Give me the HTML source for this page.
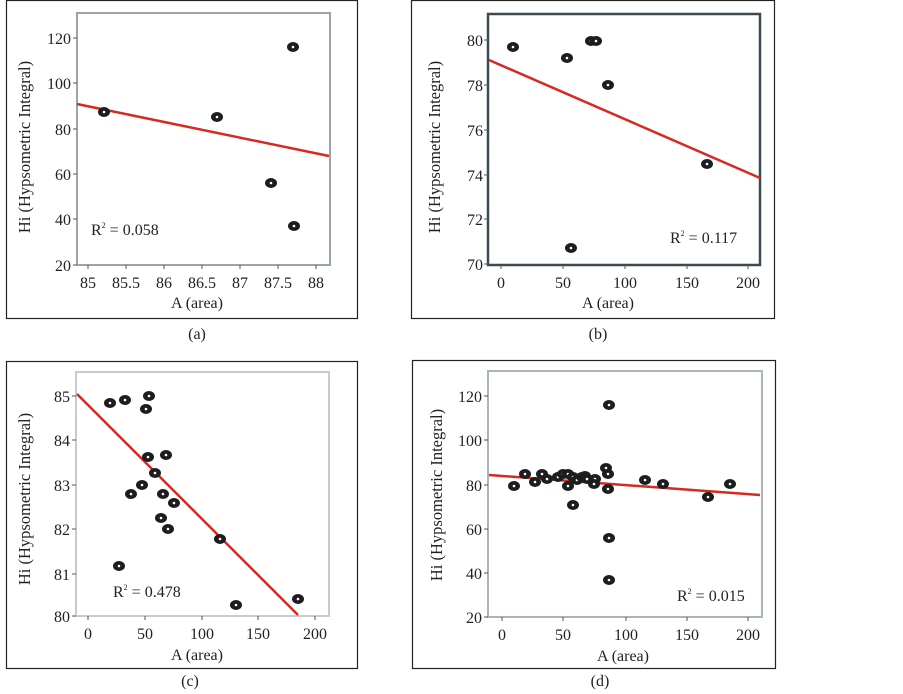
<!DOCTYPE html>
<html><head><meta charset="utf-8"><style>
html,body{margin:0;padding:0;background:#fff}
svg{display:block;font-family:"Liberation Serif","Times New Roman",Times,serif}
svg text{font-family:"Liberation Serif","Times New Roman",Times,serif;fill:#222}
.t{font-size:16px}
.tt{font-size:16.5px}
</style></head><body>
<svg width="903" height="694" viewBox="0 0 903 694" xmlns="http://www.w3.org/2000/svg" font-family="Liberation Serif, Times New Roman, serif">
<defs>
<g id="m"><ellipse cx="0" cy="0" rx="6" ry="5" fill="#1b1d1f"/><circle cx="0" cy="0" r="1.3" fill="#fff"/></g>
</defs>

<!-- Panel a -->
<rect x="6.5" y="0.5" width="351" height="318" fill="none" stroke="#222" stroke-width="1.2"/>
<rect x="77" y="13" width="253" height="252" fill="none" stroke="#9aa4ac" stroke-width="2"/>
<g stroke="#555" stroke-width="1">
<line x1="73" y1="38" x2="77" y2="38"/><line x1="73" y1="83" x2="77" y2="83"/><line x1="73" y1="129" x2="77" y2="129"/><line x1="73" y1="174" x2="77" y2="174"/><line x1="73" y1="219" x2="77" y2="219"/><line x1="73" y1="265" x2="77" y2="265"/>
<line x1="88" y1="265" x2="88" y2="269"/><line x1="126" y1="265" x2="126" y2="269"/><line x1="164" y1="265" x2="164" y2="269"/><line x1="202" y1="265" x2="202" y2="269"/><line x1="240" y1="265" x2="240" y2="269"/><line x1="278" y1="265" x2="278" y2="269"/><line x1="316" y1="265" x2="316" y2="269"/>
</g>
<g class="t" text-anchor="end">
<text x="71" y="44">120</text><text x="71" y="89">100</text><text x="71" y="135">80</text><text x="71" y="180">60</text><text x="71" y="225">40</text><text x="71" y="271">20</text>
</g>
<g class="t" text-anchor="middle">
<text x="88" y="288">85</text><text x="126" y="288">85.5</text><text x="164" y="288">86</text><text x="202" y="288">86.5</text><text x="240" y="288">87</text><text x="278" y="288">87.5</text><text x="316" y="288">88</text>
<text x="197" y="308">A (area)</text>
<text x="197" y="339">(a)</text>
</g>
<text class="tt" text-anchor="middle" transform="translate(30,147) rotate(-90)">Hi (Hypsometric Integral)</text>
<line x1="77" y1="104" x2="329" y2="156" stroke="#d42a22" stroke-width="2.5"/>
<use href="#m" x="104" y="112"/><use href="#m" x="217" y="117"/><use href="#m" x="271" y="183"/><use href="#m" x="293" y="47"/><use href="#m" x="294" y="226"/>
<text class="t" x="91" y="235">R<tspan font-size="8" dy="-7">2</tspan><tspan dy="7"> = 0.058</tspan></text>

<!-- Panel b -->
<rect x="411.5" y="0.5" width="363" height="318" fill="none" stroke="#222" stroke-width="1.2"/>
<rect x="488" y="14" width="272" height="251" fill="none" stroke="#3d4a52" stroke-width="2.5"/>
<g stroke="#555" stroke-width="1">
<line x1="484" y1="40" x2="488" y2="40"/><line x1="484" y1="85" x2="488" y2="85"/><line x1="484" y1="130" x2="488" y2="130"/><line x1="484" y1="175" x2="488" y2="175"/><line x1="484" y1="219" x2="488" y2="219"/><line x1="484" y1="264" x2="488" y2="264"/>
<line x1="501" y1="265" x2="501" y2="269"/><line x1="563" y1="265" x2="563" y2="269"/><line x1="625" y1="265" x2="625" y2="269"/><line x1="687" y1="265" x2="687" y2="269"/><line x1="748" y1="265" x2="748" y2="269"/>
</g>
<g class="t" text-anchor="end">
<text x="483" y="46">80</text><text x="483" y="91">78</text><text x="483" y="136">76</text><text x="483" y="181">74</text><text x="483" y="225">72</text><text x="483" y="270">70</text>
</g>
<g class="t" text-anchor="middle">
<text x="501" y="288">0</text><text x="563" y="288">50</text><text x="625" y="288">100</text><text x="687" y="288">150</text><text x="748" y="288">200</text>
<text x="608" y="308">A (area)</text>
<text x="598" y="339">(b)</text>
</g>
<text class="tt" text-anchor="middle" transform="translate(440,147) rotate(-90)">Hi (Hypsometric Integral)</text>
<line x1="489" y1="60" x2="760" y2="178" stroke="#d42a22" stroke-width="2.5"/>
<use href="#m" x="513" y="47"/><use href="#m" x="567" y="58"/><use href="#m" x="591" y="41"/><use href="#m" x="596" y="41"/><use href="#m" x="608" y="85"/><use href="#m" x="707" y="164"/><use href="#m" x="571" y="248"/>
<text class="t" x="670" y="243">R<tspan font-size="8" dy="-7">2</tspan><tspan dy="7"> = 0.117</tspan></text>

<!-- Panel c -->
<rect x="6.5" y="361.5" width="351" height="307" fill="none" stroke="#222" stroke-width="1.2"/>
<rect x="76" y="372" width="253" height="244" fill="none" stroke="#c4ccd2" stroke-width="2"/>
<g stroke="#555" stroke-width="1">
<line x1="72" y1="396" x2="76" y2="396"/><line x1="72" y1="440" x2="76" y2="440"/><line x1="72" y1="485" x2="76" y2="485"/><line x1="72" y1="529" x2="76" y2="529"/><line x1="72" y1="574" x2="76" y2="574"/><line x1="72" y1="616" x2="76" y2="616"/>
<line x1="88" y1="616" x2="88" y2="620"/><line x1="145" y1="616" x2="145" y2="620"/><line x1="202" y1="616" x2="202" y2="620"/><line x1="258" y1="616" x2="258" y2="620"/><line x1="315" y1="616" x2="315" y2="620"/>
</g>
<g class="t" text-anchor="end">
<text x="70" y="402">85</text><text x="70" y="446">84</text><text x="70" y="491">83</text><text x="70" y="535">82</text><text x="70" y="580">81</text><text x="70" y="622">80</text>
</g>
<g class="t" text-anchor="middle">
<text x="88" y="639">0</text><text x="145" y="639">50</text><text x="202" y="639">100</text><text x="258" y="639">150</text><text x="315" y="639">200</text>
<text x="197" y="660">A (area)</text>
<text x="190" y="686">(c)</text>
</g>
<text class="tt" text-anchor="middle" transform="translate(30,499) rotate(-90)">Hi (Hypsometric Integral)</text>
<line x1="77" y1="394" x2="298" y2="615" stroke="#d42a22" stroke-width="2.5"/>
<use href="#m" x="110" y="403"/><use href="#m" x="125" y="400"/><use href="#m" x="149" y="396"/><use href="#m" x="146" y="409"/><use href="#m" x="148" y="457"/><use href="#m" x="166" y="455"/><use href="#m" x="155" y="473"/><use href="#m" x="142" y="485"/><use href="#m" x="131" y="494"/><use href="#m" x="163" y="494"/><use href="#m" x="174" y="503"/><use href="#m" x="161" y="518"/><use href="#m" x="168" y="529"/><use href="#m" x="220" y="539"/><use href="#m" x="119" y="566"/><use href="#m" x="236" y="605"/><use href="#m" x="298" y="599"/>
<text class="t" x="113" y="597">R<tspan font-size="8" dy="-7">2</tspan><tspan dy="7"> = 0.478</tspan></text>

<!-- Panel d -->
<rect x="412.5" y="360.5" width="363" height="308" fill="none" stroke="#222" stroke-width="1.2"/>
<rect x="488" y="371" width="274" height="246" fill="none" stroke="#a9b4bb" stroke-width="2"/>
<g stroke="#555" stroke-width="1">
<line x1="484" y1="396" x2="488" y2="396"/><line x1="484" y1="440" x2="488" y2="440"/><line x1="484" y1="485" x2="488" y2="485"/><line x1="484" y1="529" x2="488" y2="529"/><line x1="484" y1="573" x2="488" y2="573"/><line x1="484" y1="617" x2="488" y2="617"/>
<line x1="502" y1="617" x2="502" y2="621"/><line x1="563" y1="617" x2="563" y2="621"/><line x1="626" y1="617" x2="626" y2="621"/><line x1="687" y1="617" x2="687" y2="621"/><line x1="748" y1="617" x2="748" y2="621"/>
</g>
<g class="t" text-anchor="end">
<text x="482" y="402">120</text><text x="482" y="446">100</text><text x="482" y="491">80</text><text x="482" y="535">60</text><text x="482" y="579">40</text><text x="482" y="623">20</text>
</g>
<g class="t" text-anchor="middle">
<text x="502" y="640">0</text><text x="563" y="640">50</text><text x="626" y="640">100</text><text x="687" y="640">150</text><text x="748" y="640">200</text>
<text x="623" y="661">A (area)</text>
<text x="600" y="686">(d)</text>
</g>
<text class="tt" text-anchor="middle" transform="translate(442,495) rotate(-90)">Hi (Hypsometric Integral)</text>
<line x1="489" y1="475" x2="760" y2="495" stroke="#d42a22" stroke-width="2.5"/>
<use href="#m" x="514" y="486"/><use href="#m" x="525" y="474"/><use href="#m" x="535" y="482"/><use href="#m" x="542" y="474"/><use href="#m" x="547" y="479"/><use href="#m" x="558" y="477"/><use href="#m" x="563" y="474"/><use href="#m" x="568" y="474"/><use href="#m" x="568" y="486"/><use href="#m" x="573" y="477"/><use href="#m" x="573" y="505"/><use href="#m" x="577" y="480"/><use href="#m" x="582" y="477"/><use href="#m" x="585" y="476"/><use href="#m" x="587" y="479"/><use href="#m" x="595" y="479"/><use href="#m" x="594" y="484"/><use href="#m" x="606" y="468"/><use href="#m" x="608" y="474"/><use href="#m" x="608" y="489"/><use href="#m" x="609" y="405"/><use href="#m" x="609" y="538"/><use href="#m" x="609" y="580"/><use href="#m" x="645" y="480"/><use href="#m" x="663" y="484"/><use href="#m" x="708" y="497"/><use href="#m" x="730" y="484"/>
<text class="t" x="677" y="601">R<tspan font-size="8" dy="-7">2</tspan><tspan dy="7"> = 0.015</tspan></text>
</svg>
</body></html>
